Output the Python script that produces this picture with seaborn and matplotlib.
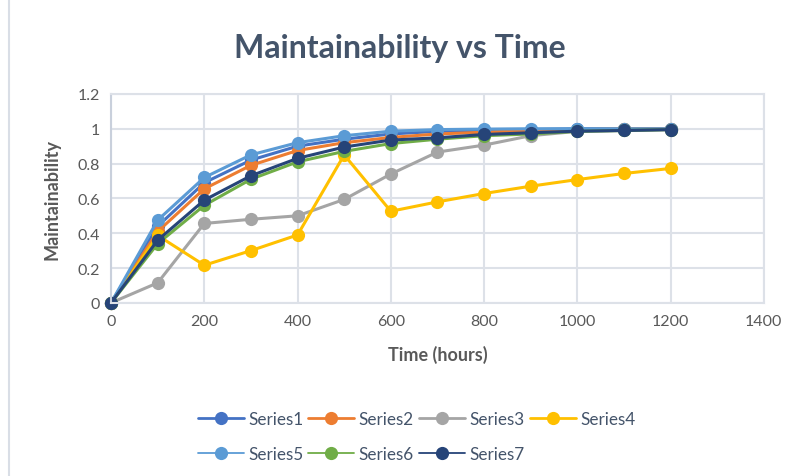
import matplotlib
matplotlib.use("Agg")
import matplotlib.pyplot as plt
import seaborn as sns
import pandas as pd
from matplotlib.lines import Line2D

time_hours = [0, 100, 200, 300, 400, 500, 600, 700, 800, 900, 1000, 1100, 1200]
series1 = [0, 0.44, 0.69, 0.82, 0.90, 0.94, 0.97, 0.985, 0.99, 0.995, 1.0, 1.0, 1.0]
series2 = [0, 0.41, 0.655, 0.79, 0.875, 0.92, 0.95, 0.97, 0.98, 0.99, 0.995, 1.0, 1.0]
series3 = [0, 0.115, 0.456, 0.48, 0.50, 0.594, 0.74, 0.866, 0.906, 0.96, 0.985, 0.99, 0.995]
series4 = [0, 0.387, 0.216, 0.30, 0.39, 0.85, 0.526, 0.58, 0.628, 0.67, 0.708, 0.743, 0.772]
series5 = [0, 0.475, 0.72, 0.85, 0.92, 0.96, 0.986, 0.995, 0.998, 1.0, 1.0, 1.0, 1.0]
series6 = [0, 0.34, 0.56, 0.71, 0.81, 0.87, 0.915, 0.94, 0.96, 0.97, 0.985, 0.99, 0.995]
series7 = [0, 0.36, 0.59, 0.73, 0.83, 0.895, 0.935, 0.948, 0.967, 0.977, 0.986, 0.99, 0.995]
series_names = ["Series1", "Series2", "Series3", "Series4", "Series5", "Series6", "Series7"]
colors = ["#4472C4", "#ED7D31", "#A5A5A5", "#FFC000", "#5B9BD5", "#70AD47", "#264478"]

all_series = [series1, series2, series3, series4, series5, series6, series7]
rows = []
for name, vals in zip(series_names, all_series):
    for t, v in zip(time_hours, vals):
        rows.append({"Time": t, "Maintainability": v, "Series": name})
df = pd.DataFrame(rows)

sns.set_style("white")
plt.rcParams["font.family"] = ["Lato", "DejaVu Sans"]

text_col = "#595959"
title_col = "#44546A"
grid_col = "#DDE1E8"

fig = plt.figure(figsize=(7.99, 4.77), dpi=100)
ax = fig.add_axes([0.139, 0.363, 0.817, 0.438])

sns.lineplot(data=df, x="Time", y="Maintainability", hue="Series",
             hue_order=series_names, palette=colors, marker="o",
             markersize=9.5, markeredgewidth=0, linewidth=2.2, ax=ax,
             legend=False)
for ln in ax.lines:
    ln.set_clip_on(False)

ax.set_xlim(0, 1400)
ax.set_ylim(0, 1.2)
ax.set_xticks(range(0, 1401, 200))
ax.set_yticks([0, 0.2, 0.4, 0.6, 0.8, 1.0, 1.2])
ax.set_yticklabels(["0", "0.2", "0.4", "0.6", "0.8", "1", "1.2"])
ax.grid(True, color=grid_col, linewidth=1.5)
ax.set_axisbelow(True)
for s in ax.spines.values():
    s.set_color(grid_col)
    s.set_linewidth(1.5)
ax.spines["left"].set_color("#C9D0DC")
ax.tick_params(axis="both", length=0, labelsize=11.5, colors=text_col, pad=8)
ax.set_xlabel("Time (hours)", fontsize=13, fontweight="bold", color=text_col, labelpad=12)
ax.set_ylabel("Maintainability", fontsize=13, fontweight="bold", color=text_col, labelpad=12)

fig.text(0.5, 0.898, "Maintainability vs Time", ha="center", va="center",
         fontsize=23, fontweight="bold", color=title_col)

handles = [Line2D([0], [0], color=c, marker="o", markersize=9.5, markeredgewidth=0,
                  linewidth=2 if i < 4 else 1.3) for i, c in enumerate(colors)]
order = [0, 4, 1, 5, 2, 6, 3]
leg = fig.legend([handles[i] for i in order], [series_names[i] for i in order],
                 loc="upper left", ncol=4, frameon=False, fontsize=12.3,
                 handlelength=2.7, columnspacing=0.3, handletextpad=0.25,
                 labelspacing=1.1, bbox_to_anchor=(0.228, 0.168),
                 bbox_transform=fig.transFigure)
leg.set_bbox_to_anchor((0.228, 0.168), transform=fig.transFigure)
for t in leg.get_texts():
    t.set_color(title_col)

fig.add_artist(Line2D([0.011, 0.011], [0.0, 1.0], color="#D9DEE6", linewidth=1.5,
                      transform=fig.transFigure))

fig.savefig("out.png", dpi=100)
